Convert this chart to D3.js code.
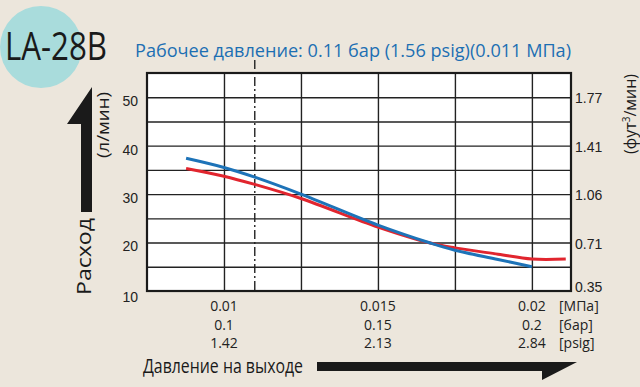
<!DOCTYPE html>
<html>
<head>
<meta charset="utf-8">
<script src="https://cdn.jsdelivr.net/npm/d3@7"></script>
<style>
  body { margin: 0; background: #ece6dc; }
  svg { display: block; font-family: "Open Sans", "Noto Sans", sans-serif; }
  .grid line { stroke: #222; stroke-width: 1.4; }
  .grid path { display: none; }
  .lbl text { font-size: 14px; fill: #222; }
  .lbl path, .lbl line { display: none; }
</style>
</head>
<body>
<div id="chart"></div>
<script>
// flow in l/min, pressure in MPa
var yTicks = [10, 20, 30, 40, 50];
var cfmLabels = ["0.35", "0.71", "1.06", "1.41", "1.77"];
var yGrid = [15, 20, 25, 30, 35, 40, 45, 50];
var xGrid = [0.01, 0.0125, 0.015, 0.0175, 0.02];
var xTicks = [0.01, 0.015, 0.02];
var mpaLabels = ["0.01", "0.015", "0.02"];
var barLabels = ["0.1", "0.15", "0.2"];
var psigLabels = ["1.42", "2.13", "2.84"];
var unitLabels = ["[МПа]", "[бар]", "[psig]"];
var workPressure = 0.011;

var bluePress = [0.00877, 0.01, 0.011, 0.0125, 0.015, 0.0167, 0.0175, 0.0189, 0.02];
var blueFlow  = [37.4, 35.5, 33.5, 30.0, 23.6, 19.9, 18.4, 16.5, 15.0];
var redPress  = [0.00877, 0.01, 0.011, 0.0125, 0.015, 0.0167, 0.0175, 0.0189, 0.02, 0.0211];
var redFlow   = [35.3, 33.7, 32.0, 29.1, 23.2, 19.9, 18.9, 17.6, 16.6, 16.6];

var width = 640, height = 387;
var margin = {top: 73, right: 69, bottom: 96, left: 147};
var w = width - margin.left - margin.right,
    h = height - margin.top - margin.bottom;

var svg = d3.select("#chart").append("svg")
    .attr("width", width)
    .attr("height", height);

svg.append("rect").attr("width", width).attr("height", height).attr("fill", "#ece6dc");

// badge
svg.append("circle").attr("cx", 41).attr("cy", 47).attr("r", 41).attr("fill", "#a9dcdc");
svg.append("text").attr("x", 5).attr("y", 60)
    .attr("font-size", 38).attr("fill", "#1a1a1a")
    .attr("textLength", 102).attr("lengthAdjust", "spacingAndGlyphs")
    .text("LA-28B");

svg.append("text").attr("x", 135).attr("y", 57)
    .attr("font-size", 19).attr("fill", "#1c6fb3")
    .attr("textLength", 436).attr("lengthAdjust", "spacingAndGlyphs")
    .text("Рабочее давление: 0.11 бар (1.56 psig)(0.011 МПа)");

var x = d3.scaleLinear().domain([0.0075, 0.02127]).range([0, w]);
var y = d3.scaleLinear().domain([10, 55]).range([h, 0]);

var g = svg.append("g").attr("transform", "translate(" + margin.left + "," + margin.top + ")");

g.append("rect").attr("width", w).attr("height", h).attr("fill", "#fff");

g.append("g").attr("class", "grid")
    .attr("transform", "translate(0," + h + ")")
    .call(d3.axisBottom(x).tickValues(xGrid).tickSize(-h).tickFormat(""));

g.append("g").attr("class", "grid")
    .call(d3.axisLeft(y).tickValues(yGrid).tickSize(-w).tickFormat(""));

// working pressure marker
g.append("line")
    .attr("x1", x(workPressure)).attr("x2", x(workPressure))
    .attr("y1", -13).attr("y2", h)
    .attr("stroke", "#222").attr("stroke-width", 1.4)
    .attr("stroke-dasharray", "9,3,2,3");

g.append("rect").attr("width", w).attr("height", h)
    .attr("fill", "none").attr("stroke", "#1a1a1a").attr("stroke-width", 2.2);

var line = d3.line()
    .x(function(d) { return x(d[0]); })
    .y(function(d) { return y(d[1]); })
    .curve(d3.curveCatmullRom.alpha(0.5));

g.append("path").datum(d3.zip(redPress, redFlow))
    .attr("fill", "none").attr("stroke", "#e1252e").attr("stroke-width", 3)
    .attr("d", line);

g.append("path").datum(d3.zip(bluePress, blueFlow))
    .attr("fill", "none").attr("stroke", "#1d73b8").attr("stroke-width", 3)
    .attr("d", line);

// left axis labels
var la = g.append("g").attr("class", "lbl")
    .call(d3.axisLeft(y).tickValues(yTicks).tickSize(0).tickPadding(9));
la.selectAll("text").attr("dy", function(d) { return d === 10 ? "0.75em" : "0.6em"; });

// right axis labels
var ra = g.append("g").attr("class", "lbl")
    .attr("transform", "translate(" + w + ",0)")
    .call(d3.axisRight(y).tickValues(yTicks).tickSize(0).tickPadding(4)
        .tickFormat(function(d, i) { return cfmLabels[i]; }));
ra.selectAll("text").attr("dy", function(d) { return d === 10 ? "0" : "0.4em"; });

// bottom labels, three rows
[mpaLabels, barLabels, psigLabels].forEach(function(row, r) {
  g.selectAll(".row" + r).data(xTicks).enter().append("text")
      .attr("x", function(d) { return x(d); })
      .attr("y", h + 20 + r * 18.5)
      .attr("text-anchor", "middle")
      .attr("font-size", 14).attr("fill", "#222")
      .text(function(d, i) { return row[i]; });
  g.append("text")
      .attr("x", w - 12).attr("y", h + 20 + r * 18.5)
      .attr("font-size", 14).attr("fill", "#222")
      .text(unitLabels[r]);
});

// axis titles and arrows
svg.append("path")
    .attr("d", "M81,212 L81,124 L67,124 L92,87 L92,212 Z")
    .attr("fill", "#1a1a1a");
svg.append("text")
    .attr("transform", "translate(91,295) rotate(-90)")
    .attr("font-size", 20).attr("fill", "#1a1a1a")
    .attr("textLength", 77).attr("lengthAdjust", "spacingAndGlyphs")
    .text("Расход");
svg.append("text")
    .attr("transform", "translate(109,158) rotate(-90)")
    .attr("font-size", 16).attr("fill", "#1a1a1a")
    .attr("textLength", 66).attr("lengthAdjust", "spacingAndGlyphs")
    .text("(л/мин)");

var rt = svg.append("text")
    .attr("transform", "translate(636,154) rotate(-90)")
    .attr("font-size", 16).attr("fill", "#1a1a1a");
rt.append("tspan").text("(фут");
rt.append("tspan").attr("font-size", 10).attr("dy", -6).text("3");
rt.append("tspan").attr("dy", 6).text("/мин)");

svg.append("text").attr("x", 143).attr("y", 373)
    .attr("font-size", 20).attr("fill", "#1a1a1a")
    .attr("textLength", 160).attr("lengthAdjust", "spacingAndGlyphs")
    .text("Давление на выходе");
svg.append("path")
    .attr("d", "M317,362 L577,362 L542,380 L542,371 L317,371 Z")
    .attr("fill", "#1a1a1a");
</script>
</body>
</html>
